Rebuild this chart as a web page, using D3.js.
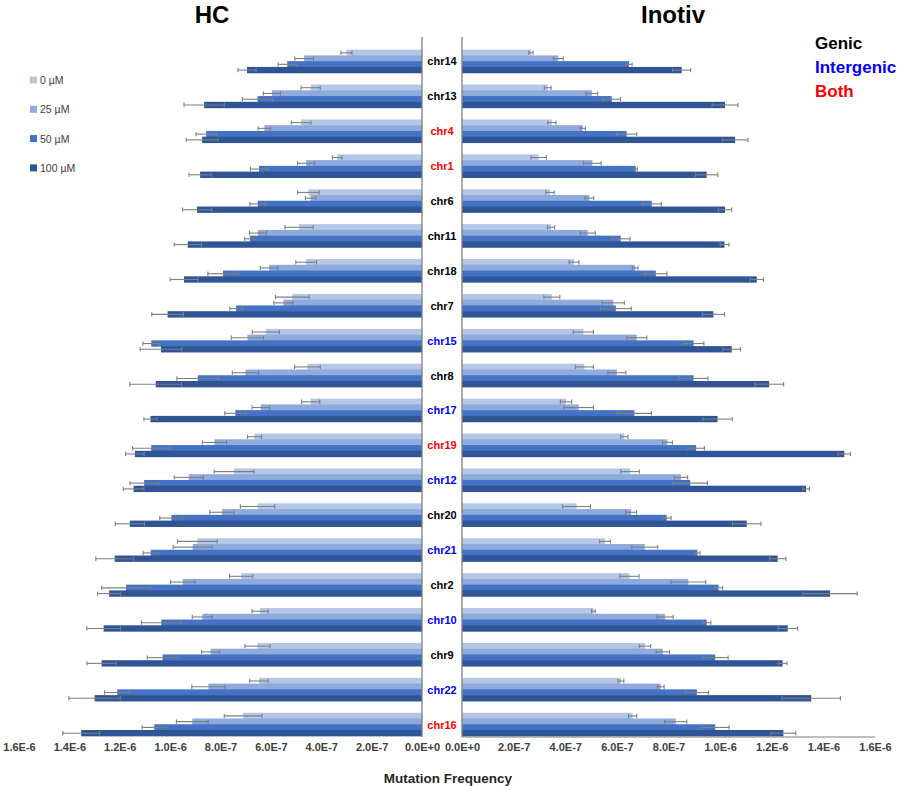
<!DOCTYPE html>
<html>
<head>
<meta charset="utf-8">
<script src="https://cdn.jsdelivr.net/npm/d3@7"></script>
<style>
  body { margin: 0; background: #fff; }
  svg { font-family: "Liberation Sans", Arial, sans-serif; }
</style>
</head>
<body>
<svg id="chart" width="900" height="786"></svg>
<script>
// chromosomes, top to bottom, and the region type that colours the label
const chromosomes = ["chr14","chr13","chr4","chr1","chr6","chr11","chr18","chr7","chr15","chr8",
                     "chr17","chr19","chr12","chr20","chr21","chr2","chr10","chr9","chr22","chr16"];
const regionType = ["Genic","Genic","Both","Both","Genic","Genic","Genic","Genic","Intergenic","Genic",
                    "Intergenic","Both","Intergenic","Genic","Intergenic","Genic","Intergenic","Genic","Intergenic","Both"];
const doses = ["0 µM","25 µM","50 µM","100 µM"];
const ticks = [0,2e-7,4e-7,6e-7,8e-7,1e-6,1.2e-6,1.4e-6,1.6e-6];

// HC mutation frequency (x1e-7), one array per dose, in chromosome order
const hc0   = [3.0,4.42,4.8,3.37,4.51,4.88,4.6,5.15,6.2,4.55,4.42,6.65,7.46,6.53,8.92,7.18,6.43,6.53,6.47,7.1];
const hc25  = [4.68,5.96,6.26,4.6,4.42,6.51,6.07,5.5,6.93,7.01,6.4,8.24,9.26,7.94,9.1,9.5,8.72,8.39,8.48,9.12];
const hc50  = [5.35,6.53,8.57,6.47,6.52,6.83,7.9,7.38,10.75,8.9,7.41,10.75,11.03,9.95,10.77,11.75,10.35,10.3,12.1,10.63];
const hc100 = [6.95,8.65,8.73,8.81,8.93,9.3,9.45,10.1,10.36,10.57,10.78,11.4,11.45,11.6,12.2,12.42,12.64,12.72,13.0,13.53];
// HC error (x1e-7)
const hcErr0   = [0.22,0.38,0.39,0.19,0.43,0.56,0.41,0.67,0.54,0.51,0.36,0.28,0.79,0.68,0.79,0.46,0.32,0.5,0.37,0.75];
const hcErr25  = [0.37,0.34,0.25,0.34,0.21,0.34,0.35,0.38,0.64,0.52,0.35,0.48,0.58,0.48,0.78,0.48,0.4,0.36,0.66,0.63];
const hcErr50  = [0.36,0.6,0.4,0.34,0.31,0.21,0.6,0.25,0.33,0.83,0.42,0.74,0.56,0.46,0.3,0.97,0.79,0.61,0.5,0.48];
const hcErr100 = [0.36,0.8,0.63,0.44,0.58,0.54,0.55,0.63,0.83,1.03,0.26,0.37,0.41,0.58,0.75,0.46,0.67,0.58,1.02,0.73];

// Inotiv mutation frequency (x1e-7)
const in0   = [2.67,3.32,3.48,2.97,3.41,3.45,4.34,3.48,4.7,4.74,4.03,6.29,6.51,4.44,5.54,6.49,5.09,7.09,6.16,6.61];
const in25  = [3.73,5.03,4.68,5.05,4.93,4.87,6.71,5.86,6.77,6.0,4.52,7.96,8.48,6.55,7.08,8.77,7.87,7.78,7.7,8.28];
const in50  = [6.47,5.8,6.38,6.73,7.35,6.15,7.51,5.96,8.97,8.97,6.68,9.07,8.84,7.93,9.12,9.94,9.48,9.81,9.1,9.81];
const in100 = [8.51,10.19,10.58,9.48,10.19,10.17,11.42,9.74,10.45,11.9,9.9,14.81,13.33,11.03,12.23,14.26,12.62,12.42,13.53,12.45];
const inErr0   = [0.08,0.13,0.16,0.3,0.16,0.14,0.19,0.31,0.39,0.35,0.22,0.14,0.36,0.54,0.21,0.37,0.07,0.22,0.11,0.16];
const inErr25  = [0.19,0.23,0.1,0.34,0.17,0.29,0.11,0.43,0.39,0.35,0.57,0.19,0.26,0.21,0.5,0.67,0.31,0.26,0.13,0.43];
const inErr50  = [0.12,0.34,0.39,0.06,0.37,0.36,0.43,0.6,0.4,0.56,0.66,0.32,0.67,0.17,0.1,0.16,0.16,0.5,0.45,0.54];
const inErr100 = [0.35,0.5,0.5,0.43,0.26,0.17,0.26,0.43,0.34,0.56,0.57,0.24,0.13,0.55,0.32,1.05,0.38,0.17,1.13,0.48];

const doseColors = ["#b4c7e7","#8faadc","#4472c4","#2f5597"];
const typeColors = {Genic: "#000000", Intergenic: "#0000ff", Both: "#ff0000"};

function buildRows(series, errors) {
    let rows = [];
    chromosomes.forEach((c, i) => {
        doses.forEach((d, j) => {
            rows.push({chr: c, dose: d, value: series[j][i] * 1e-7, err: errors[j][i] * 1e-7, k: j});
        });
    });
    return rows;
}
const hcRows = buildRows([hc0,hc25,hc50,hc100],[hcErr0,hcErr25,hcErr50,hcErr100]);
const inRows = buildRows([in0,in25,in50,in100],[inErr0,inErr25,inErr50,inErr100]);

const svg = d3.select("#chart");

let yScale = d3.scaleBand()
    .domain(chromosomes)
    .range([44, 742])
    .paddingInner(0.34)
    .paddingOuter(0.17);
let doseScale = d3.scaleBand()
    .domain(doses)
    .range([0, yScale.bandwidth()]);

let xLeft = d3.scaleLinear().domain([0, 1.6e-6]).range([422, 19]);
let xRight = d3.scaleLinear().domain([0, 1.6e-6]).range([462, 875]);

function sciFormat(v) {
    if (v === 0) return "0.0E+0";
    let e = Math.floor(Math.log10(v) + 1e-9);
    let m = Math.round(v / Math.pow(10, e) * 10) / 10;
    return m.toFixed(1) + "E" + e;
}

function drawPanel(rows, xScale, axisX) {
    let g = svg.append("g");
    g.selectAll("rect")
        .data(rows)
        .enter().append("rect")
        .attr("x", d => Math.min(xScale(0), xScale(d.value)))
        .attr("y", d => yScale(d.chr) + doseScale(d.dose) - 0.3)
        .attr("width", d => Math.abs(xScale(d.value) - xScale(0)))
        .attr("height", doseScale.bandwidth() + 0.6)
        .style("fill", d => doseColors[d.k]);

    // error bars
    let eb = g.selectAll(".err")
        .data(rows)
        .enter().append("g")
        .attr("class", "err")
        .attr("transform", d => "translate(0," + (yScale(d.chr) + doseScale(d.dose) + doseScale.bandwidth() / 2) + ")")
        .style("stroke", "#7f7f7f")
        .style("stroke-width", 1.1);
    eb.append("line")
        .attr("x1", d => xScale(d.value - d.err))
        .attr("x2", d => xScale(d.value + d.err));
    eb.append("line")
        .attr("x1", d => xScale(d.value - d.err)).attr("x2", d => xScale(d.value - d.err))
        .attr("y1", -2.2).attr("y2", 2.2);
    eb.append("line")
        .attr("x1", d => xScale(d.value + d.err)).attr("x2", d => xScale(d.value + d.err))
        .attr("y1", -2.2).attr("y2", 2.2);

    // vertical axis line
    g.append("line")
        .attr("x1", axisX).attr("x2", axisX)
        .attr("y1", 37).attr("y2", 737)
        .style("stroke", "#7f7f7f").style("stroke-width", 1.3);

    // x axis labels
    let axis = d3.axisBottom(xScale).tickValues(ticks).tickFormat(sciFormat).tickSize(0).tickPadding(0);
    let ax = svg.append("g")
        .attr("transform", "translate(0,743)")
        .call(axis);
    ax.select(".domain").remove();
    ax.selectAll("text")
        .style("font-size", "11px")
        .style("font-weight", "bold")
        .style("fill", "#404040");
    return ax;
}

drawPanel(hcRows, xLeft, 422);
let rightAxis = drawPanel(inRows, xRight, 462);

// baseline under the Inotiv panel
svg.append("line")
    .attr("x1", xRight(0)).attr("x2", xRight(1.6e-6))
    .attr("y1", 737).attr("y2", 737)
    .style("stroke", "#7f7f7f").style("stroke-width", 1);

// chromosome labels
svg.selectAll(".chrLabel")
    .data(chromosomes)
    .enter().append("text")
    .attr("class", "chrLabel")
    .attr("x", 442)
    .attr("y", d => yScale(d) + yScale.bandwidth() / 2 + 4)
    .attr("text-anchor", "middle")
    .style("font-size", "11px")
    .style("font-weight", "bold")
    .style("fill", (d, i) => typeColors[regionType[i]])
    .text(d => d);

// panel titles
svg.append("text").attr("x", 212).attr("y", 23).attr("text-anchor", "middle")
    .style("font-size", "24px").style("font-weight", "bold").text("HC");
svg.append("text").attr("x", 673).attr("y", 23).attr("text-anchor", "middle")
    .style("font-size", "24px").style("font-weight", "bold").text("Inotiv");

// axis title
svg.append("text").attr("x", 448).attr("y", 783).attr("text-anchor", "middle")
    .style("font-size", "13.5px").style("font-weight", "bold").style("fill", "#262626")
    .text("Mutation Frequency");

// dose legend
let legend = svg.append("g").selectAll("g")
    .data(doses)
    .enter().append("g")
    .attr("transform", (d, i) => "translate(30," + (80 + i * 29.3) + ")");
legend.append("rect")
    .attr("x", 0).attr("y", -3.5).attr("width", 7).attr("height", 7)
    .style("fill", (d, i) => doseColors[i]);
legend.append("text")
    .attr("x", 10).attr("y", 4)
    .style("font-size", "10.5px").style("fill", "#404040")
    .text(d => d);

// region type legend
const typeNames = ["Genic","Intergenic","Both"];
svg.append("g").selectAll("text")
    .data(typeNames)
    .enter().append("text")
    .attr("x", 815)
    .attr("y", (d, i) => 49 + i * 24)
    .style("font-size", "17px")
    .style("font-weight", "bold")
    .style("fill", d => typeColors[d])
    .text(d => d);
</script>
</body>
</html>
